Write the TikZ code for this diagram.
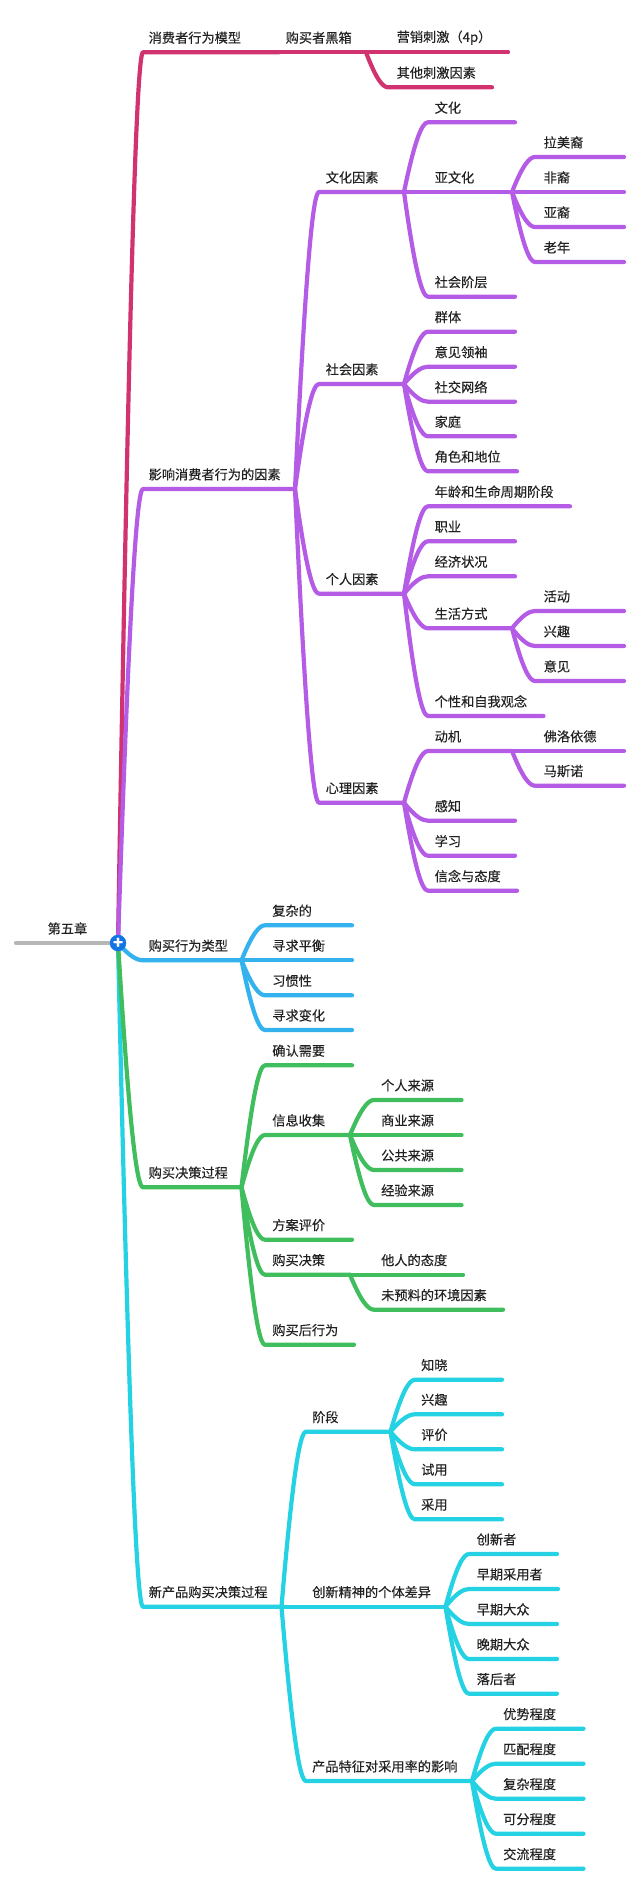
\documentclass[tikz,border=0pt]{standalone}
\usepackage{fontspec}
\setmainfont{Noto Sans CJK SC}[FakeBold=0.25]
\usetikzlibrary{calc}
\definecolor{cpink}{HTML}{D0336F}
\definecolor{cpurple}{HTML}{B45CE6}
\definecolor{cblue}{HTML}{33B2EE}
\definecolor{cgreen}{HTML}{40BE5E}
\definecolor{ccyan}{HTML}{24D2E3}
\definecolor{cgray}{HTML}{B6B6B6}
\definecolor{cnode}{HTML}{1574E4}
\definecolor{ctext}{HTML}{222222}
\tikzset{
  lk/.style={line width=4.2pt,line cap=round,line join=round},
  lbl/.style={anchor=west,inner sep=0pt,font=\fontsize{13.2}{14}\selectfont,text=ctext},
}
% colour, name, parent, x-start, y, x-end, text-x, text
\newcommand\tp[8]{%
  \coordinate (#2-a) at (#4,#5);
  \coordinate (#2) at (#6,#5);
  \node[lbl] (#2-t) at (#7-0.5,#5-14.6) {#8};
  \draw[lk,#1] let \p1=(#3),\p2=(#2-a) in
    (\p1) .. controls ({\x1+.45*(\x2-\x1)},{\y1+.75*(\y2-\y1)}) and ({\x1+.75*(\x2-\x1)},\y2) .. (\p2) -- (#2);
}
\begin{document}
\begin{tikzpicture}[x=1pt,y=-1pt]
\useasboundingbox (0,0) rectangle (640,1886);
\fill[white] (0,0) rectangle (640,1886);
\coordinate (rs) at (16,943);
\coordinate (root) at (118,943);
\draw[lk,cgray] (rs) -- (root);
\node[lbl] (roott) at (47.5,928.5) {第五章};

% pink
\tp{cpink}{a}{root}{143}{52.3}{279}{149}{消费者行为模型}
\tp{cpink}{a1}{a}{279}{52.3}{366}{286}{购买者黑箱}
\tp{cpink}{a11}{a1}{388}{52.3}{508}{397}{营销刺激（4p）}
\tp{cpink}{a12}{a1}{388}{87.3}{492}{397}{其他刺激因素}

% cyan
\tp{ccyan}{e}{root}{143}{1606.7}{281.5}{149}{新产品购买决策过程}
\tp{ccyan}{e1}{e}{306}{1431.7}{390.5}{312.5}{阶段}
\tp{ccyan}{e11}{e1}{415}{1379.7}{502}{421.5}{知晓}
\tp{ccyan}{e12}{e1}{415}{1414.3}{502}{421.5}{兴趣}
\tp{ccyan}{e13}{e1}{415}{1449.3}{502}{421.5}{评价}
\tp{ccyan}{e14}{e1}{415}{1484.3}{502}{421.5}{试用}
\tp{ccyan}{e15}{e1}{415}{1519.3}{502}{421.5}{采用}
\tp{ccyan}{e2}{e}{306}{1606.7}{445.5}{312.5}{创新精神的个体差异}
\tp{ccyan}{e21}{e2}{469}{1554}{557}{477}{创新者}
\tp{ccyan}{e22}{e2}{469}{1589}{558}{477}{早期采用者}
\tp{ccyan}{e23}{e2}{469}{1624}{557}{477}{早期大众}
\tp{ccyan}{e24}{e2}{469}{1659}{557}{477}{晚期大众}
\tp{ccyan}{e25}{e2}{469}{1693.7}{557}{477}{落后者}
\tp{ccyan}{e3}{e}{306}{1781}{472}{312.5}{产品特征对采用率的影响}
\tp{ccyan}{e31}{e3}{496}{1728.7}{583.5}{503.5}{优势程度}
\tp{ccyan}{e32}{e3}{496}{1763.7}{583.5}{503.5}{匹配程度}
\tp{ccyan}{e33}{e3}{496}{1798.7}{583.5}{503.5}{复杂程度}
\tp{ccyan}{e34}{e3}{496}{1833.7}{583.5}{503.5}{可分程度}
\tp{ccyan}{e35}{e3}{496}{1868.7}{583.5}{503.5}{交流程度}

% green
\tp{cgreen}{d}{root}{143}{1187.3}{241.5}{149}{购买决策过程}
\tp{cgreen}{d1}{d}{265}{1065.3}{352}{272.6}{确认需要}
\tp{cgreen}{d2}{d}{265}{1135}{350}{272.6}{信息收集}
\tp{cgreen}{d21}{d2}{374}{1100}{461.5}{381.5}{个人来源}
\tp{cgreen}{d22}{d2}{374}{1135}{461.5}{381.5}{商业来源}
\tp{cgreen}{d23}{d2}{374}{1170}{461.5}{381.5}{公共来源}
\tp{cgreen}{d24}{d2}{374}{1205}{461.5}{381.5}{经验来源}
\tp{cgreen}{d3}{d}{265}{1239.7}{352}{272.6}{方案评价}
\tp{cgreen}{d4}{d}{265}{1274.7}{350}{272.6}{购买决策}
\tp{cgreen}{d41}{d4}{374}{1274.7}{463}{381.5}{他人的态度}
\tp{cgreen}{d42}{d4}{374}{1309.7}{503}{381.5}{未预料的环境因素}
\tp{cgreen}{d5}{d}{265}{1344.7}{354}{272.6}{购买后行为}

% blue
\tp{cblue}{c}{root}{143}{960.3}{241.5}{149}{购买行为类型}
\tp{cblue}{c1}{c}{265}{925.3}{352}{272.6}{复杂的}
\tp{cblue}{c2}{c}{265}{960.3}{352}{272.6}{寻求平衡}
\tp{cblue}{c3}{c}{265}{995.3}{352}{272.6}{习惯性}
\tp{cblue}{c4}{c}{265}{1030}{352}{272.6}{寻求变化}

% purple
\tp{cpurple}{b}{root}{143}{489}{295}{149}{影响消费者行为的因素}
\tp{cpurple}{b1}{b}{319}{192}{404}{326}{文化因素}
\tp{cpurple}{b11}{b1}{428}{122.3}{515}{435}{文化}
\tp{cpurple}{b12}{b1}{428}{192}{512}{435}{亚文化}
\tp{cpurple}{b121}{b12}{535}{157}{624}{544}{拉美裔}
\tp{cpurple}{b122}{b12}{535}{192}{624}{544}{非裔}
\tp{cpurple}{b123}{b12}{535}{227}{624}{544}{亚裔}
\tp{cpurple}{b124}{b12}{535}{262}{624}{544}{老年}
\tp{cpurple}{b13}{b1}{428}{296.7}{515}{435}{社会阶层}
\tp{cpurple}{b2}{b}{319}{384}{404}{326}{社会因素}
\tp{cpurple}{b21}{b2}{428}{331.7}{515}{435}{群体}
\tp{cpurple}{b22}{b2}{428}{366.7}{515}{435}{意见领袖}
\tp{cpurple}{b23}{b2}{428}{401.7}{515}{435}{社交网络}
\tp{cpurple}{b24}{b2}{428}{436.3}{515}{435}{家庭}
\tp{cpurple}{b25}{b2}{428}{471.3}{517}{435}{角色和地位}
\tp{cpurple}{b3}{b}{319}{593.7}{404}{326}{个人因素}
\tp{cpurple}{b31}{b3}{428}{506.3}{570}{435}{年龄和生命周期阶段}
\tp{cpurple}{b32}{b3}{428}{541.3}{515}{435}{职业}
\tp{cpurple}{b33}{b3}{428}{576.3}{515}{435}{经济状况}
\tp{cpurple}{b34}{b3}{428}{628.3}{512}{435}{生活方式}
\tp{cpurple}{b341}{b34}{535}{611}{624}{544}{活动}
\tp{cpurple}{b342}{b34}{535}{646}{624}{544}{兴趣}
\tp{cpurple}{b343}{b34}{535}{681}{624}{544}{意见}
\tp{cpurple}{b35}{b3}{428}{716}{543.5}{435}{个性和自我观念}
\tp{cpurple}{b4}{b}{319}{802.7}{404}{326}{心理因素}
\tp{cpurple}{b41}{b4}{428}{751}{512}{435}{动机}
\tp{cpurple}{b411}{b41}{535}{751}{624}{544}{佛洛依德}
\tp{cpurple}{b412}{b41}{535}{785.7}{624}{544}{马斯诺}
\tp{cpurple}{b42}{b4}{428}{820.7}{515}{435}{感知}
\tp{cpurple}{b43}{b4}{428}{855.7}{515}{435}{学习}
\tp{cpurple}{b44}{b4}{428}{890.7}{517}{435}{信念与态度}

\node[circle,fill=cnode,draw=cnode,minimum size=16pt,inner sep=0pt,text=white,font=\bfseries\fontsize{16}{16}\selectfont] (rootn) at (root) {+};
\end{tikzpicture}
\end{document}
